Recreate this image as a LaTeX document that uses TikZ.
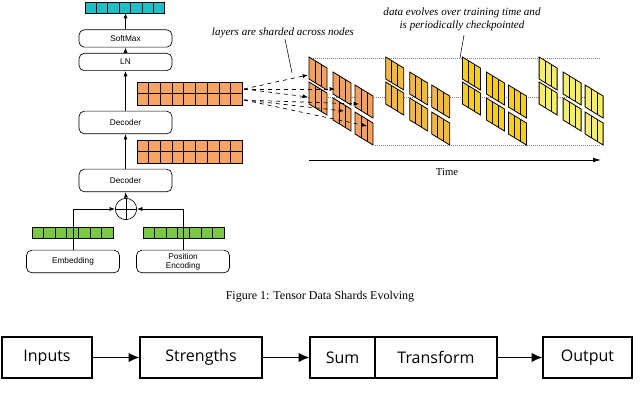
\documentclass[tikz,border=0pt]{standalone}
\usepackage{fontspec}
\setmainfont{Liberation Serif}
\newfontfamily\sansf{Liberation Sans}
\newfontfamily\flowf{Open Sans}
\usetikzlibrary{arrows.meta}
\definecolor{teal1}{HTML}{1BBFC8}
\definecolor{org1}{HTML}{F7A462}
\definecolor{grn1}{HTML}{7AC943}
\definecolor{g1}{HTML}{F6A05A}
\definecolor{g2}{HTML}{F6B838}
\definecolor{g3}{HTML}{F6D200}
\definecolor{g4}{HTML}{F8EE62}
\newcommand{\cellrow}[6]{% x y ncols nrows w color
  \foreach \i in {1,...,#3}{\foreach \j in {1,...,#4}{
    \draw[fill=#6,line width=0.5pt] ({#1+(\i-1)*#5},{#2+(\j-1)*11.5}) rectangle ++(#5,11.5);}}}
\newcommand{\shardp}[3]{%
  \draw[fill=#3,line width=0.6pt] (#1,#2) -- ++(18,11) -- ++(0,22) -- ++(-18,-11) -- cycle;
  \draw[line width=0.6pt] ({#1+6},{#2+3.67}) -- ++(0,22) ({#1+12},{#2+7.33}) -- ++(0,22);}
\begin{document}
\begin{tikzpicture}[x=0.75pt,y=-0.75pt,
  blk/.style={draw,rounded corners=4pt,line width=0.5pt,minimum width=69.75pt,minimum height=13pt,font=\sansf\fontsize{6.2}{6.8}\selectfont,align=center,inner sep=0pt},
  fbox/.style={draw,line width=0.9pt,minimum height=30.75pt,font=\flowf\fontsize{12}{14}\selectfont,inner sep=0pt},
  arr/.style={-{Latex[length=4pt,width=3pt]},line width=0.5pt},
  farr/.style={-{Latex[length=8pt,width=7pt]},line width=1pt},
  lbl/.style={font=\itshape\fontsize{8.3}{9.6}\selectfont,align=center},
  dot/.style={densely dotted,line width=0.5pt,gray}]
\useasboundingbox (0,0) rectangle (640,413);
% left stack
\cellrow{85}{2}{7}{1}{11.4}{teal1}
\node[blk] (sm) at (125.5,38.5) {SoftMax};
\node[blk] (ln) at (125.5,62) {LN};
\cellrow{137}{82}{9}{2}{11.7}{org1}
\node[blk,minimum height=17pt] (d1) at (125.5,122.5) {Decoder};
\cellrow{137}{140}{9}{2}{11.7}{org1}
\node[blk,minimum height=17pt] (d2) at (125.5,180.5) {Decoder};
\node[draw,circle,minimum size=16pt,inner sep=0pt,line width=0.5pt] (op) at (126,209) {};
\draw[line width=0.5pt] (op.north) -- (op.south) (op.west) -- (op.east);
\cellrow{32}{227}{7}{1}{11.6}{grn1}
\cellrow{143}{227}{7}{1}{11.6}{grn1}
\node[blk,minimum height=17pt] (emb) at (73,261.5) {Embedding};
\node[blk,minimum height=17pt] (pos) at (183,261.5) {Position\\Encoding};
\draw[arr] (emb.north) |- (op.west);
\draw[arr] (pos.north) |- (op.east);
\draw[arr] (op.north) -- (d2.south);
\draw[arr] (d2.north) -- (d1.south);
\draw[arr] (d1.north) -- (ln.south);
\draw[arr] (ln.north) -- (sm.south);
\coordinate (tt) at (125.5,13);
\draw[arr] (sm.north) -- (tt);
% dotted guide lines
\draw[dot] (309,58) -- (600,58);
\draw[dot] (300,97) -- (600,97);
\draw[dot] (375,145) -- (600,145);
% shards
\foreach \g/\c in {0/g1,1/g2,2/g3,3/g4}{
  \shardp{309+76.7*\g}{57}{\c}
  \shardp{309+76.7*\g}{82}{\c}
  \shardp{333+76.7*\g}{72}{\c}
  \shardp{333+76.7*\g}{98}{\c}
  \shardp{355+76.7*\g}{85}{\c}
  \shardp{355+76.7*\g}{112}{\c}
}
% dashed arrows
\coordinate (o1) at (244,89);
\coordinate (o2) at (244,100);
\foreach \o/\t in {o1/{(308,75)},o1/{(335,89)},o1/{(308,97)},o2/{(359,104)},o2/{(344,111)},o2/{(367,126)}}{
  \draw[arr,dashed] (\o) -- \t;}
% time axis
\coordinate (ta) at (309,160);
\coordinate (tb) at (601,160);
\draw[-{Latex[length=6pt,width=3.5pt]},line width=0.6pt] (ta) -- (tb);
\node[font=\fontsize{8}{9}\selectfont] (time) at (447,172) {Time};
% labels
\node[lbl] (l1) at (283,33) {layers are sharded across nodes};
\coordinate (l1e) at (292,73);
\draw[line width=0.4pt] (285,39) -- (l1e);
\node[lbl] (l2) at (462,19) {data evolves over training time and\\is periodically checkpointed};
\coordinate (l2e) at (460,58);
\draw[line width=0.4pt] (l2.south) ++(2,0) -- (l2e);
% caption
\node[font=\fontsize{9}{11}\selectfont] (cap) at (320,297) {Figure 1: Tensor Data Shards Evolving};
% flow chart
\node[fbox,minimum width=67.5pt] (in) at (47,357.5) {Inputs};
\node[fbox,minimum width=91.5pt] (st) at (201,357.5) {Strengths};
\node[fbox,minimum width=48.75pt] (su) at (342.5,357.5) {Sum};
\node[fbox,minimum width=91.5pt] (tr) at (436,357.5) {Transform};
\node[fbox,minimum width=66.75pt] (ou) at (587.5,357.5) {Output};
\draw[farr] (in) -- (st);
\draw[farr] (st) -- (su);
\draw[farr] (tr) -- (ou);
\end{tikzpicture}
\end{document}
